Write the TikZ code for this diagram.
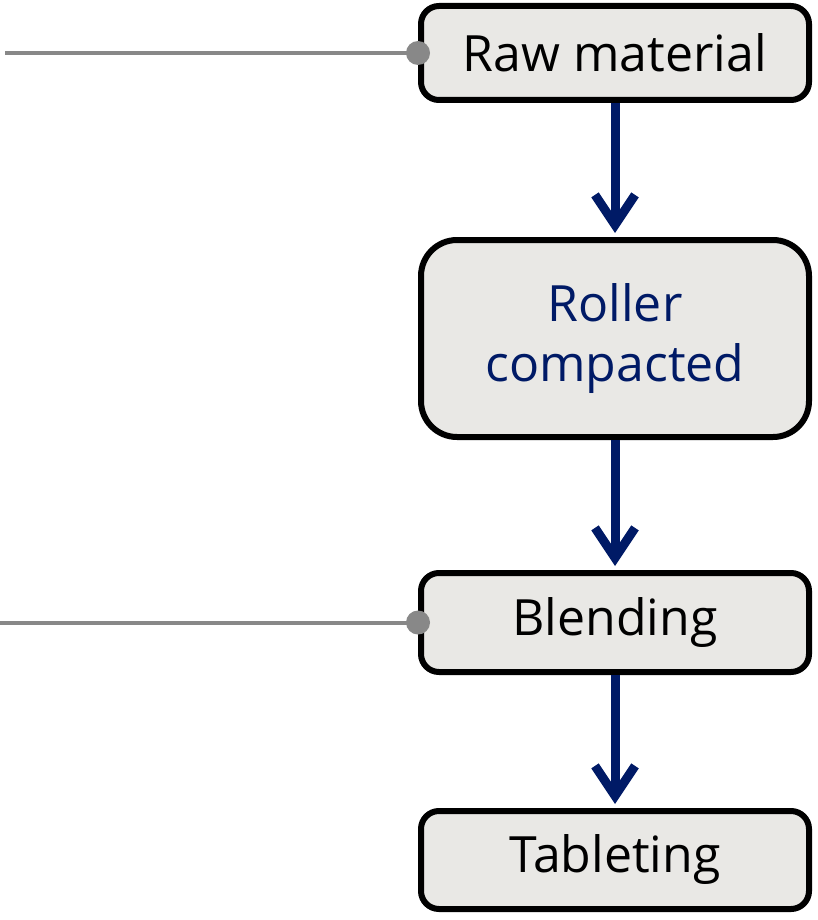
\documentclass[tikz,border=0pt]{standalone}
\usepackage{fontspec}
\setmainfont{Open Sans}
\usetikzlibrary{arrows.meta}
\definecolor{boxfill}{HTML}{E9E8E5}
\definecolor{navy}{HTML}{001A66}
\definecolor{wire}{HTML}{888888}
\tikzset{
  stepbox/.style={draw=black, line width=6pt, fill=boxfill, rounded corners=#1,
    inner sep=0pt, minimum width=388pt, font=\fontsize{50}{60}\selectfont, align=center},
  flow/.style={draw=navy, line width=9pt, shorten >=4pt,
    -{Straight Barb[length=30pt, width=40pt, line width=9pt]}},
  feed/.style={draw=wire, line width=4pt},
}
\begin{document}
\begin{tikzpicture}[x=1pt, y=-1pt]
\useasboundingbox (0,0) rectangle (818,920);
\node[stepbox=18pt, minimum height=94pt] (raw) at (615,53) {Raw material};
\node[stepbox=36pt, minimum height=197pt, text=navy] (roll) at (615,338.5) {Roller\\compacted};
\node[stepbox=18pt, minimum height=99pt] (blend) at (615,622.5) {Blending};
\node[stepbox=18pt, minimum height=98pt] (tab) at (615,860) {Tableting};
\coordinate (f1) at (5,53);
\coordinate (f2) at (0,622.5);
\draw[flow] (raw.south) -- (roll.north);
\draw[flow] (roll.south) -- (blend.north);
\draw[flow] (blend.south) -- (tab.north);
\draw[feed] (f1) -- (raw.west);
\draw[feed] (f2) -- (blend.west);
\fill[wire] (raw.west) circle (12pt);
\fill[wire] (blend.west) circle (12pt);
\end{tikzpicture}
\end{document}
